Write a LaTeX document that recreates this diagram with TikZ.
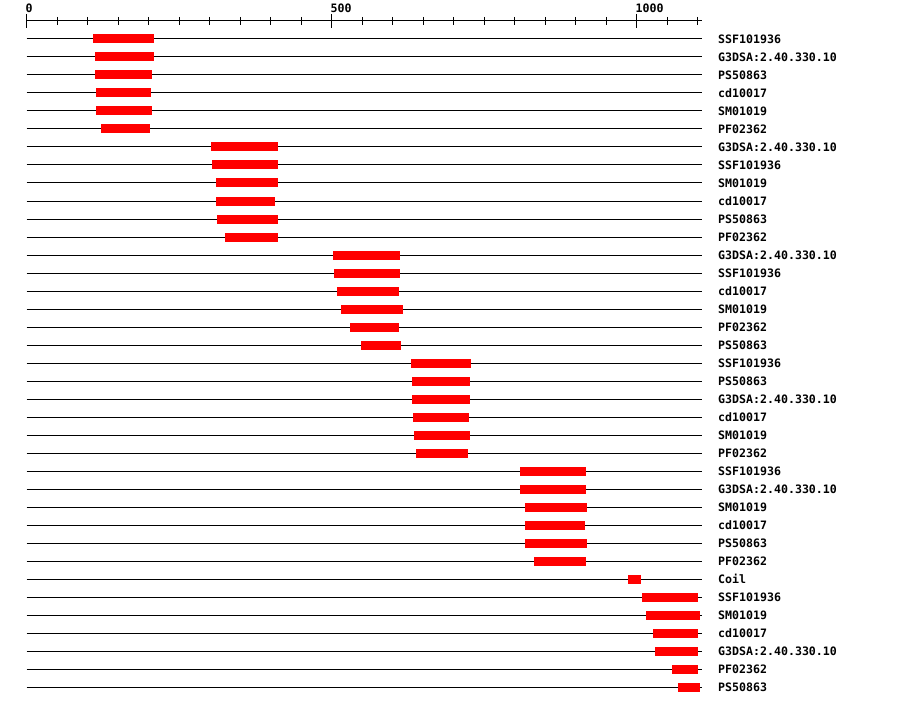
\documentclass[tikz,border=0pt]{standalone}
\usepackage{fontspec}
\setmonofont{DejaVu Sans Mono}
\tikzset{
  axisline/.style={line width=1pt, black},
  tickmark/.style={line width=1pt, black},
  rowline/.style={line width=1pt, black},
  bar/.style={fill={rgb,255:red,255;green,0;blue,0}, draw=none, inner sep=0pt, outer sep=0pt, minimum height=9pt},
  lab/.style={inner sep=0pt, font=\ttfamily\bfseries\fontsize{11.6}{12}\selectfont},
}
\begin{document}
\begin{tikzpicture}[x=1pt,y=-1pt]
\useasboundingbox[fill=white] (0,0) rectangle (900,706);
% axis
\coordinate (ax0) at (26.5,21);
\coordinate (ax1) at (701.7,21);
\draw[axisline] (ax0) -- (ax1);
\foreach \k in {0,...,22}{
  \pgfmathsetmacro\tx{26.5+30.5*\k}
  \coordinate (tt\k) at (\tx,17);
  \coordinate (tb\k) at (\tx,25);
  \draw[tickmark] (tt\k) -- (tb\k);
}
\foreach \k in {0,10,20}{
  \pgfmathsetmacro\tx{26.5+30.5*\k}
  \coordinate (mt\k) at (\tx,14);
  \coordinate (mb\k) at (\tx,28);
  \draw[tickmark] (mt\k) -- (mb\k);
}
\node[lab, anchor=base west] (t0) at (25.5,12.2) {0};
\node[lab, anchor=base west] (t500) at (330.5,12.2) {500};
\node[lab, anchor=base west] (t1000) at (635.5,12.2) {1000};
% rows
\foreach \i/\a/\b/\t in {
0/93/154/SSF101936,
1/95/154/G3DSA:2.40.330.10,
2/95/152/PS50863,
3/96/151/cd10017,
4/96/152/SM01019,
5/101/150/PF02362,
6/211/278/G3DSA:2.40.330.10,
7/212/278/SSF101936,
8/216/278/SM01019,
9/216/275/cd10017,
10/217/278/PS50863,
11/225/278/PF02362,
12/333/400/G3DSA:2.40.330.10,
13/334/400/SSF101936,
14/337/399/cd10017,
15/341/403/SM01019,
16/350/399/PF02362,
17/361/401/PS50863,
18/411/471/SSF101936,
19/412/470/PS50863,
20/412/470/G3DSA:2.40.330.10,
21/413/469/cd10017,
22/414/470/SM01019,
23/416/468/PF02362,
24/520/586/SSF101936,
25/520/586/G3DSA:2.40.330.10,
26/525/587/SM01019,
27/525/585/cd10017,
28/525/587/PS50863,
29/534/586/PF02362,
30/628/641/Coil,
31/642/698/SSF101936,
32/646/700/SM01019,
33/653/698/cd10017,
34/655/698/G3DSA:2.40.330.10,
35/672/698/PF02362,
36/678/700/PS50863}{
  \pgfmathsetmacro\yy{39+18*\i}
  \pgfmathsetmacro\w{\b-\a}
  \pgfmathsetmacro\ly{\yy+4.2}
  \coordinate (s\i) at (26.5,\yy);
  \coordinate (e\i) at (701.7,\yy);
  \draw[rowline] (s\i) -- (e\i);
  \node[bar, minimum width=\w pt, anchor=west] (bar\i) at (\a,\yy) {};
  \node[lab, anchor=base west] (lab\i) at (718,\ly) {\t};
}
\end{tikzpicture}
\end{document}
